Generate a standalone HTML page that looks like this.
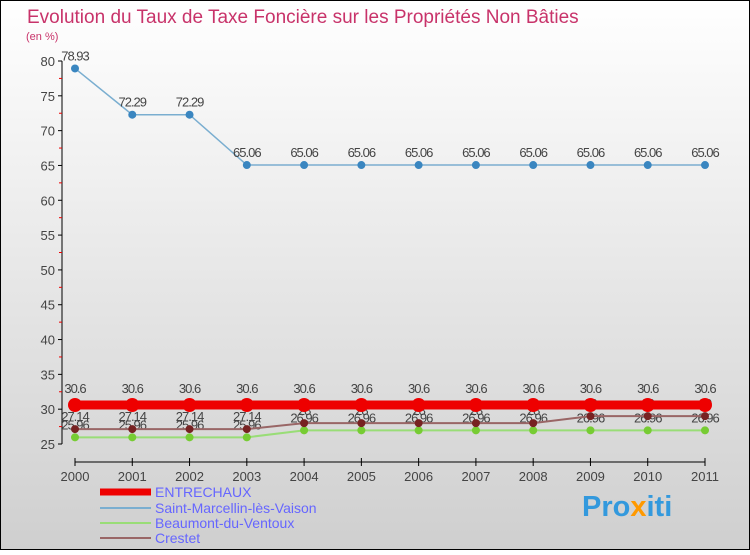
<!DOCTYPE html>
<html><head><meta charset="utf-8"><style>
html,body{margin:0;padding:0}
body{width:750px;height:550px;overflow:hidden;font-family:"Liberation Sans",sans-serif}
</style></head><body>
<svg id="chart" width="750" height="550" xmlns="http://www.w3.org/2000/svg">
<defs><linearGradient id="bg" x1="0" y1="0" x2="0" y2="1"><stop offset="0" stop-color="#ffffff"/><stop offset="1" stop-color="#cfcfcf"/></linearGradient></defs>
<rect x="0.5" y="0.5" width="749" height="549" fill="url(#bg)" stroke="#000"/>
<text x="27" y="23" font-size="19" fill="#c8336a">Evolution du Taux de Taxe Foncière sur les Propriétés Non Bâties</text>
<text x="26" y="40" font-size="11" fill="#c8336a">(en %)</text>
<g id="axes"></g><g id="series"></g>
<g font-size="14" fill="#6666ff">
<line x1="100" y1="492" x2="151" y2="492" stroke="#ee0000" stroke-width="7"/>
<text x="155" y="497">ENTRECHAUX</text>
<line x1="100" y1="508" x2="151" y2="508" stroke="#7aaed0" stroke-width="2"/>
<text x="155" y="513">Saint-Marcellin-lès-Vaison</text>
<line x1="100" y1="523" x2="151" y2="523" stroke="#99dd77" stroke-width="2"/>
<text x="155" y="528">Beaumont-du-Ventoux</text>
<line x1="100" y1="538" x2="151" y2="538" stroke="#996666" stroke-width="2"/>
<text x="155" y="543">Crestet</text>
</g>
<text x="582" y="516" font-size="29" font-weight="bold" fill="#3399dd">Pro<tspan fill="#ff9900">x</tspan>iti</text>
</svg>
<script>
const years=[2000,2001,2002,2003,2004,2005,2006,2007,2008,2009,2010,2011];
const yTicks=[25,30,35,40,45,50,55,60,65,70,75,80];
const entrechaux=[30.6,30.6,30.6,30.6,30.6,30.6,30.6,30.6,30.6,30.6,30.6,30.6];
const saintMarcellin=[78.93,72.29,72.29,65.06,65.06,65.06,65.06,65.06,65.06,65.06,65.06,65.06];
const beaumont=[25.96,25.96,25.96,25.96,26.96,26.96,26.96,26.96,26.96,26.96,26.96,26.96];
const crestet=[27.14,27.14,27.14,27.14,28,28,28,28,28,29,29,29];
const NS="http://www.w3.org/2000/svg";
const X=i=>75+i*(630/11), Y=v=>444-(v-25)*(383/55);
function mk(t,a,p){const e=document.createElementNS(NS,t);for(const k in a)e.setAttribute(k,a[k]);p.appendChild(e);return e;}
const ax=document.getElementById('axes'), sr=document.getElementById('series');
let l=mk('line',{x1:62,y1:Y(80),x2:62,y2:Y(25),stroke:'#000'},ax);


l=mk('line',{x1:X(0),y1:462,x2:X(11),y2:462,stroke:'#000'},ax);


yTicks.forEach(v=>{mk('line',{x1:58,y1:Y(v),x2:62,y2:Y(v),stroke:'#000'},ax);
 if(v<80)mk('line',{x1:59,y1:Y(v+2.5),x2:62,y2:Y(v+2.5),stroke:'#e00'},ax);
 const t=mk('text',{x:55,y:Y(v)+5,'font-size':13,fill:'#444','text-anchor':'end'},ax);t.textContent=v;
 
 });
years.forEach((y,i)=>{mk('line',{x1:X(i),y1:458,x2:X(i),y2:466,stroke:'#000'},ax);
 const t=mk('text',{x:X(i),y:481,'font-size':13,fill:'#444','text-anchor':'middle'},ax);t.textContent=y;
 
 });
function series(name,vals,col,w,r,dot,dy){
 const g=mk('g',{},sr);
 
 
 mk('polyline',{points:vals.map((v,i)=>X(i)+','+Y(v)).join(' '),fill:'none',stroke:col,'stroke-width':w},g);
 vals.forEach((v,i)=>{const c=mk('circle',{cx:X(i),cy:Y(v),r:r,fill:dot},g);
  
  
  const t=mk('text',{x:X(i),y:Y(v)+dy,'font-size':13,fill:'#444','text-anchor':'middle','letter-spacing':'-1'},g);
  t.textContent=String(v);
  
  });
}
series('beaumont',beaumont,'#99dd77',2,4,'#77cc33',-8);
series('crestet',crestet,'#996666',2,4,'#772222',-8);
series('entrechaux',entrechaux,'#ee0000',9,7,'#ee0000',-12);
series('saint-marcellin',saintMarcellin,'#7aaed0',1.5,4,'#3a86c0',-8);
</script>
</body></html>
